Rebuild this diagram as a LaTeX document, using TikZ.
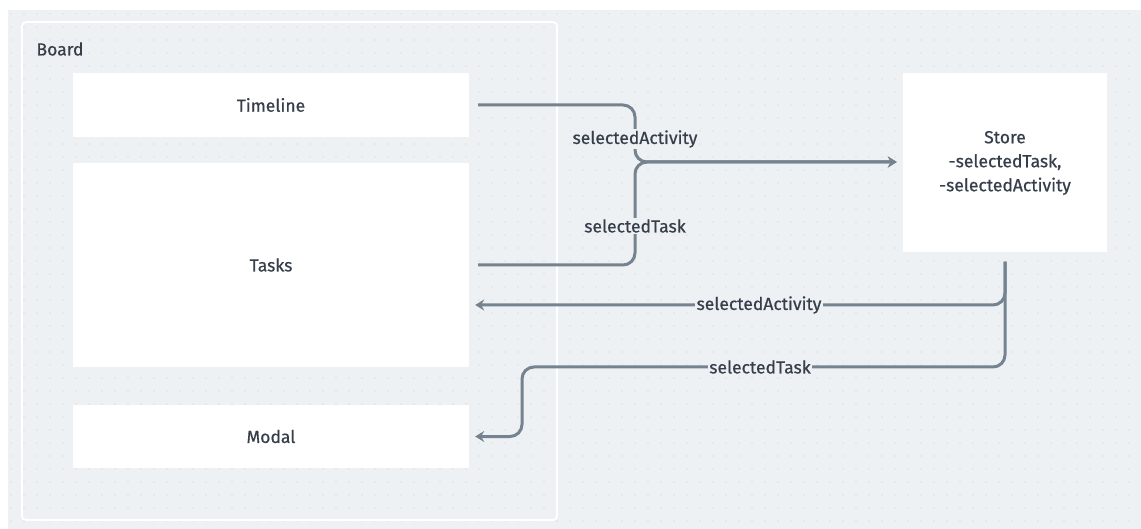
\documentclass[tikz,border=0pt]{standalone}
\usepackage{fontspec}
\setmainfont{Fira Sans}[UprightFeatures={FakeBold=0.6}]
\usetikzlibrary{arrows.meta,calc}
\definecolor{canvas}{HTML}{EEF1F4}
\definecolor{gridDot}{HTML}{C8CFD7}
\definecolor{ink}{HTML}{363E4B}
\definecolor{wire}{HTML}{74838F}
\tikzset{
  card/.style={fill=white, draw=none, inner sep=0pt, font=\fontsize{17.5}{24}\selectfont, text=ink, align=center},
  flow/.style={draw=wire, line width=3pt, rounded corners=12pt, -{Stealth[length=9pt,width=11pt,inset=3pt]}},
  wirelabel/.style={fill=canvas, text=ink, inner sep=1.5pt, font=\fontsize{17.5}{24}\selectfont},
}
\begin{document}
\begin{tikzpicture}[x=1pt,y=-1pt]
  \useasboundingbox (0,0) rectangle (1141,529);
  \fill[white] (0,0) rectangle (1141,529);
  \fill[canvas] (8,10) rectangle (1141,529);
  % dotted grid
  \foreach \i in {0,...,86} {
    \foreach \j in {0,...,39} {
      \fill[gridDot] (11+13*\i, 14+13*\j) circle (0.7pt);
    }
  }
  % board frame
  \draw[white, line width=1.8pt, rounded corners=4pt] (22,22) rectangle (557,520);
  \node[anchor=west, text=ink, font=\fontsize{17.5}{24}\selectfont] (board) at (33,49) {Board};
  % components
  \node[card, minimum width=396pt, minimum height=64pt] (timeline) at (271,105) {Timeline};
  \node[card, minimum width=396pt, minimum height=204pt] (tasks) at (271,265) {Tasks};
  \node[card, minimum width=396pt, minimum height=63pt] (modal) at (271,436.5) {Modal};
  \node[card, minimum width=204pt, minimum height=179pt] (store) at (1005,163) {Store\\-selectedTask,\\-selectedActivity};
  % wiring into the store
  \coordinate (joinIn) at (635,162);
  \draw[flow, shorten <=9pt, shorten >=6pt] (timeline.east) -- (timeline.east -| joinIn) -- (joinIn) -- (store.west |- joinIn);
  \draw[flow, shorten <=9pt, shorten >=6pt] (tasks.east) -- (tasks.east -| joinIn) -- (joinIn) -- (store.west |- joinIn);
  \node[wirelabel] (lblActIn) at (635,139) {selectedActivity};
  \node[wirelabel] (lblTaskIn) at (635,226) {selectedTask};
  % wiring out of the store
  \coordinate (actRow) at (1005,305);
  \coordinate (taskRow) at (1005,367);
  \coordinate (bend) at (522,367);
  \draw[flow, shorten <=9pt, shorten >=6pt] (store.south) -- (actRow) -- (tasks.east |- actRow);
  \draw[flow, shorten <=9pt, shorten >=6pt] (store.south) -- (taskRow) -- (bend) -- (bend |- modal.east) -- (modal.east);
  \node[wirelabel] (lblActOut) at (759,305) {selectedActivity};
  \node[wirelabel] (lblTaskOut) at (760,367) {selectedTask};
\end{tikzpicture}
\end{document}
